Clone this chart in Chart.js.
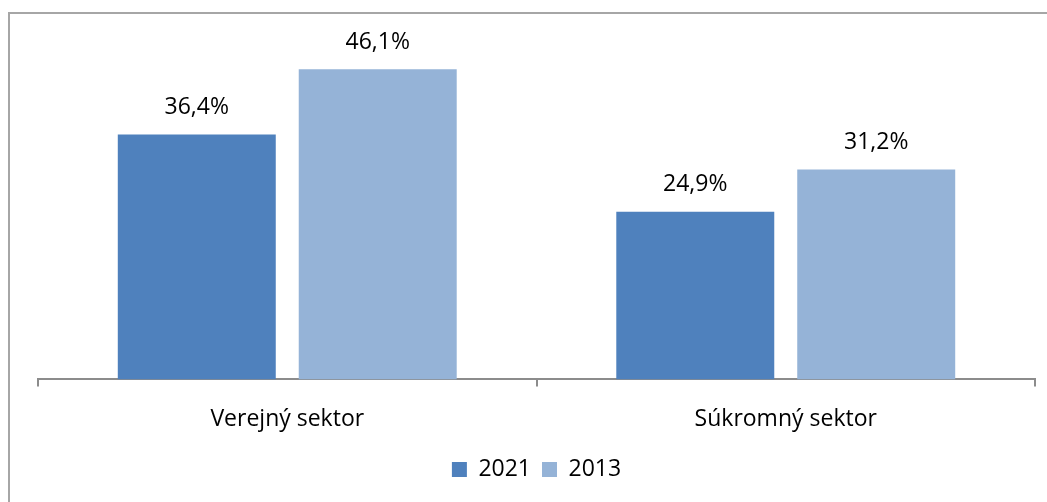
<!DOCTYPE html>
<html><head><meta charset="utf-8">
<script src="https://cdn.jsdelivr.net/npm/chart.js@4.4.1/dist/chart.umd.min.js"></script>
<style>html,body{margin:0;padding:0;background:#fff;}#wrap{position:relative;width:1047px;height:502px;}</style>
</head><body><div id="wrap"><canvas id="c" width="1047" height="502"></canvas></div>
<script>
const categories = ["Verejný sektor", "Súkromný sektor"];
const seriesNames = ["2021", "2013"];
const values2021 = [36.4, 24.9];
const values2013 = [46.1, 31.2];
const colors = ["#4F81BD", "#95B3D7"];
const FONT = "'Open Sans', 'Liberation Sans', sans-serif";

const fmt = v => v.toFixed(1).replace('.', ',') + '%';

const frame = {
  id: 'frame',
  beforeDraw(chart) {
    const ctx = chart.ctx;
    ctx.save();
    ctx.strokeStyle = '#a6a6a6';
    ctx.lineWidth = 2;
    ctx.strokeRect(9, 13, 1100, 600);
    ctx.restore();
  }
};
const labels = {
  id: 'labels',
  afterDatasetsDraw(chart) {
    const ctx = chart.ctx;
    ctx.save();
    ctx.font = "23px " + FONT;
    ctx.fillStyle = '#000';
    ctx.textAlign = 'center';
    ctx.textBaseline = 'middle';
    chart.data.datasets.forEach((ds, i) => {
      chart.getDatasetMeta(i).data.forEach((bar, j) => {
        ctx.fillText(fmt(ds.data[j]), bar.x, bar.y - 27);
      });
    });
    ctx.restore();
  }
};

new Chart(document.getElementById('c'), {
  type: 'bar',
  data: {
    labels: categories,
    datasets: [
      { label: seriesNames[0], data: values2021, backgroundColor: colors[0] },
      { label: seriesNames[1], data: values2013, backgroundColor: colors[1] }
    ]
  },
  options: {
    responsive: false,
    animation: false,
    devicePixelRatio: 1,
    categoryPercentage: 0.726,
    barPercentage: 0.873,
    layout: { padding: { left: 38, right: 12, top: 43, bottom: 11 } },
    plugins: {
      legend: {
        position: 'bottom',
        labels: { font: { size: 23, family: FONT }, color: '#000', boxWidth: 15, boxHeight: 15, padding: 11 }
      },
      tooltip: { enabled: false }
    },
    scales: {
      y: { display: false, min: 0, max: 50 },
      x: {
        afterFit: s => { s.height -= 5; },
        grid: { display: true, drawOnChartArea: false, offset: true, tickLength: 7, color: '#8c8c8c', lineWidth: 2 },
        border: { display: true, color: '#8c8c8c', width: 2 },
        ticks: { font: { size: 23, family: FONT }, color: '#000', padding: 19 }
      }
    }
  },
  plugins: [frame, labels]
});
</script></body></html>
